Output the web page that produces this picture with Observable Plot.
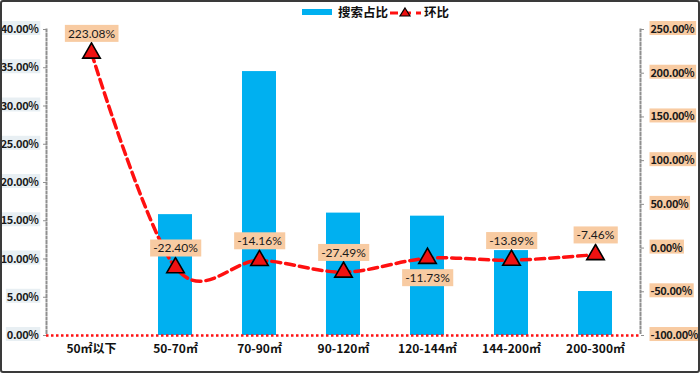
<!DOCTYPE html>
<html><head><meta charset="utf-8">
<script src="https://cdn.jsdelivr.net/npm/d3@7"></script>
<script src="https://cdn.jsdelivr.net/npm/@observablehq/plot@0.6"></script>
<style>
html,body{margin:0;padding:0;background:#fff;}
#wrap{position:relative;width:700px;height:373px;overflow:hidden;background:#fff;font-family:"Noto Sans CJK SC","Noto Sans",sans-serif;}
#border{position:absolute;left:0;top:0;width:700px;height:373px;box-sizing:border-box;border:2px solid #3a3a3a;border-radius:3px;pointer-events:none;}
#legend{position:relative;height:20px;}
#legend .item{position:absolute;top:5px;display:flex;align-items:center;font-size:12.5px;font-weight:700;color:#111;line-height:14px;}
.ax text{font-family:"Noto Sans CJK SC",sans-serif;font-weight:700;font-size:11px;fill:#1a1a1a;letter-spacing:-0.4px;}
.xax text{font-family:"Noto Sans CJK SC",sans-serif;font-weight:700;font-size:12px;fill:#111;}
.lbl text{font-family:Lato,"Open Sans",sans-serif;font-size:12px;fill:#1a1a1a;}
</style></head>
<body>
<div id="wrap">
  <div id="legend">
    <div class="item" style="left:302px;"><svg width="31" height="8" style="margin-right:5px"><rect x="0" y="1" width="30" height="6" fill="#00b0f0"/></svg>搜索占比</div>
    <div class="item" style="left:389px;"><svg width="33" height="14" style="margin-right:2px"><line x1="1" y1="8" x2="32" y2="8" stroke="#ff1010" stroke-width="3" stroke-dasharray="8,5"/><path d="M16,3 L21,11 L11,11 Z" fill="#ee1111" stroke="#000" stroke-width="1.2"/></svg>环比</div>
  </div>
  <div id="chart"></div>
  <div id="border"></div>
</div>
<script>
const categories = ["50㎡以下", "50-70㎡", "70-90㎡", "90-120㎡", "120-144㎡", "144-200㎡", "200-300㎡"];
const searchShare = [0, 15.8, 34.5, 16.0, 15.6, 11.1, 5.75];
const momChange = [223.08, -22.40, -14.16, -27.49, -11.73, -13.89, -7.46];
const leftTicks = [0, 5, 10, 15, 20, 25, 30, 35, 40];
const rightTicks = [-100, -50, 0, 50, 100, 150, 200, 250];
const leftDomain = [0, 40];
const rightDomain = [-100, 250];

const toLeft = v => (v - rightDomain[0]) / (rightDomain[1] - rightDomain[0]) * (leftDomain[1] - leftDomain[0]) + leftDomain[0];
const fromLeft = v => Math.round(((v - leftDomain[0]) / (leftDomain[1] - leftDomain[0]) * (rightDomain[1] - rightDomain[0]) + rightDomain[0]) * 100) / 100;

const data = categories.map((c, i) => ({cat: c, share: searchShare[i], mom: momChange[i], i}));

const chart = Plot.plot({
  width: 700,
  height: 353,
  marginTop: 9,
  marginBottom: 38,
  marginLeft: 46,
  marginRight: 60,
  style: {background: "transparent", fontFamily: "'Noto Sans CJK SC', sans-serif"},
  x: {domain: categories, paddingInner: 0.6, paddingOuter: 0.3, label: null},
  y: {domain: leftDomain, label: null},
  marks: [
    Plot.barY(data, {x: "cat", y: "share", fill: "#00b0f0"}),
    Plot.frame({anchor: "left", stroke: "#8f8f8f", strokeWidth: 2, strokeDasharray: "2,2.5"}),
    Plot.frame({anchor: "right", stroke: "#8f8f8f", strokeWidth: 2, strokeDasharray: "2,2.5"}),
    Plot.ruleY([0], {stroke: "#ff1010", strokeWidth: 2.5, strokeDasharray: "2.5,2.5"}),
    Plot.axisY({anchor: "left", ticks: leftTicks, tickSize: 3, tickPadding: 5, stroke: "#8f8f8f",
      tickFormat: d => d.toFixed(2) + "%", className: "ax lax"}),
    Plot.axisY(rightTicks.map(toLeft), {anchor: "right", tickSize: 3, tickPadding: 7, stroke: "#8f8f8f",
      tickFormat: d => fromLeft(d).toFixed(2) + "%", className: "ax rax"}),
    Plot.axisX({tickSize: 0, tickPadding: 9, className: "xax"}),
    Plot.line(data, {x: "cat", y: d => toLeft(d.mom), stroke: "#ff1010", strokeWidth: 3.5,
      strokeDasharray: "9,5", curve: "cardinal", tension: 0}),
    Plot.dot(data, {x: "cat", y: d => toLeft(d.mom), symbol: "triangle", r: 6.5,
      fill: "#ee1111", stroke: "#000", strokeWidth: 1.6}),
    Plot.text(data, {filter: d => d.i !== 4, x: "cat", y: d => toLeft(d.mom),
      text: d => d.mom.toFixed(2) + "%", dy: -19, className: "lbl"}),
    Plot.text(data, {filter: d => d.i === 4, x: "cat", y: d => toLeft(d.mom),
      text: d => d.mom.toFixed(2) + "%", dy: 20, className: "lbl"})
  ]
});
document.getElementById("chart").appendChild(chart);

function addBg(selector, fill, px, py) {
  chart.querySelectorAll(selector).forEach(t => {
    const b = t.getBBox();
    const r = document.createElementNS("http://www.w3.org/2000/svg", "rect");
    r.setAttribute("x", b.x - px);
    r.setAttribute("y", b.y - py);
    r.setAttribute("width", b.width + 2 * px);
    r.setAttribute("height", b.height + 2 * py);
    r.setAttribute("fill", fill);
    if (t.getAttribute("transform")) r.setAttribute("transform", t.getAttribute("transform"));
    t.parentNode.insertBefore(r, t);
  });
}
addBg("g.lbl text", "#f8cba2", 3, 1);
addBg("g.rax text", "#f8cba2", 1, -1);
addBg("g.lax text", "#e8eff3", 1, -1);
</script>
</body></html>
